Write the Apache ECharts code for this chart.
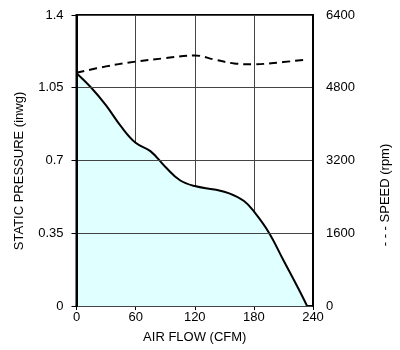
<!DOCTYPE html>
<html><head><meta charset="utf-8">
<script src="https://cdn.jsdelivr.net/npm/echarts@6/dist/echarts.min.js"></script>
<style>html,body{margin:0;padding:0;background:#fff}#c{width:400px;height:350px}</style>
</head><body><div id="c"></div>
<script>
const pressureFlow = [0, 15, 30, 45, 60, 75, 90, 105, 120, 140, 155, 170, 180, 195, 210, 225, 234];
const pressureVals = [1.12, 1.05, 0.965, 0.865, 0.785, 0.745, 0.67, 0.605, 0.577, 0.56, 0.542, 0.505, 0.455, 0.355, 0.22, 0.085, 0];
const speedFlow = [0, 30, 60, 90, 120, 140, 160, 180, 200, 230];
const speedVals = [5130, 5270, 5375, 5450, 5510, 5420, 5335, 5315, 5345, 5410];
const xTicks = ['0', '60', '120', '180', '240'];
const yLeftTicks = ['0', '0.35', '0.7', '1.05', '1.4'];
const yRightTicks = ['0', '1600', '3200', '4800', '6400'];
const xTitle = 'AIR FLOW (CFM)';
const yLeftTitle = 'STATIC PRESSURE (inwg)';
const yRightTitle = '- - - SPEED (rpm)';

const chart = echarts.init(document.getElementById('c'), null, {renderer: 'canvas'});
const font = 'Liberation Sans, Arial, sans-serif';
const lab = {color: '#000', fontFamily: font, fontSize: 13};
chart.setOption({
  animation: false,
  grid: {left: 76.5, right: 87, top: 15, bottom: 44, show: true, borderColor: '#000', borderWidth: 2, backgroundColor: 'transparent'},
  xAxis: {
    type: 'value', min: 0, max: 240, interval: 60,
    name: xTitle, nameLocation: 'middle', nameGap: 25,
    nameTextStyle: {color: '#000', fontFamily: font, fontSize: 13},
    axisLine: {show: true, lineStyle: {color: '#000', width: 2}},
    axisTick: {show: true, length: 4, lineStyle: {color: '#000'}},
    axisLabel: Object.assign({margin: 5, formatter: (v) => xTicks[Math.round(v / 60)]}, lab),
    splitLine: {show: true, lineStyle: {color: '#444', width: 1}}
  },
  yAxis: [{
    type: 'value', min: 0, max: 1.4, interval: 0.35, z: 5,
    axisLine: {show: true, lineStyle: {color: '#000', width: 2}},
    axisTick: {show: true, length: 5, lineStyle: {color: '#000'}},
    axisLabel: Object.assign({margin: 13, formatter: (v) => yLeftTicks[Math.round(v / 0.35)]}, lab),
    splitLine: {show: true, lineStyle: {color: '#444', width: 1}}
  }, {
    type: 'value', min: 0, max: 6400, interval: 1600, position: 'right', z: 5,
    axisLine: {show: true, lineStyle: {color: '#000', width: 2}},
    axisTick: {show: false},
    axisLabel: Object.assign({margin: 13, formatter: (v) => yRightTicks[Math.round(v / 1600)]}, lab),
    splitLine: {show: false}
  }],
  graphic: [
    {type: 'text', x: 19, y: 171, rotation: Math.PI / 2,
     style: {text: yLeftTitle, fill: '#000', font: '13px ' + font, textAlign: 'center', textVerticalAlign: 'middle'}},
    {type: 'text', x: 385, y: 195, rotation: Math.PI / 2,
     style: {text: yRightTitle, fill: '#000', font: '13px ' + font, textAlign: 'center', textVerticalAlign: 'middle'}}
  ],
  series: [{
    type: 'line', yAxisIndex: 0, smooth: 0.4, symbol: 'none',
    data: pressureFlow.map((f, i) => [f, pressureVals[i]]),
    lineStyle: {color: '#000', width: 2},
    areaStyle: {color: '#e0ffff', opacity: 1}
  }, {
    type: 'line', yAxisIndex: 1, smooth: 0.4, symbol: 'none',
    data: speedFlow.map((f, i) => [f, speedVals[i]]),
    lineStyle: {color: '#000', width: 2, type: [8, 5]}
  }]
});
</script></body></html>
